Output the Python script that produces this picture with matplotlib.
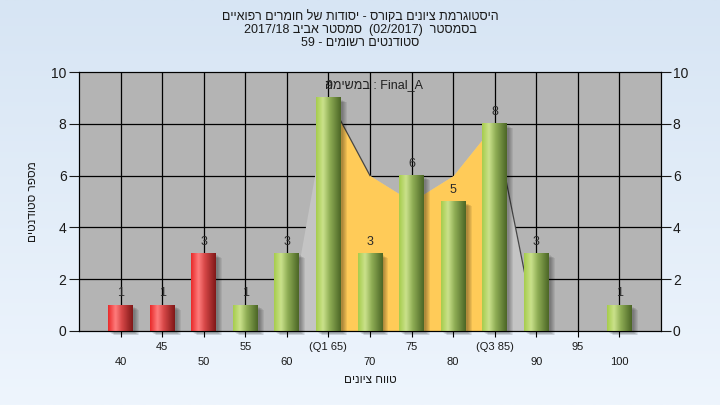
import numpy as np
import matplotlib
matplotlib.use("Agg")
import matplotlib.pyplot as plt
from matplotlib.patches import Rectangle
from matplotlib.colors import LinearSegmentedColormap

plt.rcParams['font.family'] = ['Liberation Sans', 'DejaVu Sans']

# data
grades = ['40', '45', '50', '55', '60', '(Q1 65)', '70', '75', '80', '(Q3 85)', '90', '95', '100']
counts = [1, 1, 3, 1, 3, 9, 3, 6, 5, 8, 3, 0, 1]
failed = [True, True, True, False, False, False, False, False, False, False, False, False, False]
area_idx = [4, 5, 6, 7, 8, 9, 10]          # 60 .. 90
area_vals = [0, 9, 6, 5, 6, 8, 0]

# hebrew strings written in visual (left to right) order
title_lines = [
    "היסטוגרמת ציונים בקורס - יסודות של חומרים רפואיים"[::-1],
    "2017/18 " + "סמסטר אביב"[::-1] + "  (02/2017)  " + "בסמסטר"[::-1],
    "59 - " + "סטודנטים רשומים"[::-1],
]
xlabel = "טווח ציונים"[::-1]
ylabel = "מספר סטודנטים"[::-1]
task_label = "במשימה"[::-1] + " : Final_A"

fig = plt.figure(figsize=(7.2, 4.05), dpi=100)

# light blue gradient background
bg = fig.add_axes([0, 0, 1, 1], zorder=-10)
grad = np.linspace(0, 1, 256).reshape(-1, 1)
bg_cmap = LinearSegmentedColormap.from_list('bg', ['#d7e5f4', '#eef5fd'])
bg.imshow(grad, aspect='auto', cmap=bg_cmap, extent=[0, 1, 0, 1])
bg.axis('off')

ax = fig.add_axes([79/720, 1 - 331/405, 582/720, 259/405])
ax.set_facecolor('#b4b4b4')
x = np.arange(len(grades))
ax.set_xlim(-1, 13)
ax.set_ylim(0, 10)

# grid
for xi in x:
    ax.axvline(xi, color='black', lw=0.9, zorder=1)
for yi in range(2, 10, 2):
    ax.axhline(yi, color='black', lw=0.9, zorder=1)

# area behind bars
ax.fill_between(area_idx, area_vals, color='#c4c4c4', lw=0, zorder=2)
ax.fill_between(area_idx[1:6], area_vals[1:6], color='#ffcb58', lw=0, zorder=2.1)
ax.plot(area_idx[1:3], area_vals[1:3], color='#454545', lw=0.9, zorder=2.2)
ax.plot(area_idx[5:7], area_vals[5:7], color='#454545', lw=0.9, zorder=2.2)

red_cmap = LinearSegmentedColormap.from_list('r', [(0, '#e82a2a'), (0.3, '#ff7d7d'), (0.55, '#d84848'), (1, '#801818')])
green_cmap = LinearSegmentedColormap.from_list('g', [(0, '#a6cc4c'), (0.28, '#cbe28c'), (0.55, '#8fae55'), (1, '#4c6626')])

w = 0.6
px = 14 / 582
py = 10 / 259
for xi, v, f in zip(x, counts, failed):
    if v == 0:
        continue
    # soft shadow
    for k in range(5):
        ax.add_patch(Rectangle((xi - w/2 + (2 + k) * px, -(2 + k * 0.6) * py), w, v,
                               color='black', alpha=0.07, lw=0, zorder=3, clip_on=False))
    ax.imshow(np.linspace(0, 1, 64).reshape(1, -1), cmap=red_cmap if f else green_cmap,
              extent=[xi - w/2, xi + w/2, 0, v], aspect='auto', interpolation='bicubic', zorder=4)
    ax.text(xi, v + 0.45, str(v), ha='center', va='center', fontsize=9, color='#2a2a2a', zorder=5)

ax.set_xlim(-1, 13)
ax.set_ylim(0, 10)

ax.text(4.92, 9.5, task_label, ha='left', va='center', fontsize=9, color='#202020', zorder=5)

# ticks and labels, staggered in two rows
ax.set_xticks(x)
ax.set_xticklabels(grades, fontsize=8, color='#1a1a1a')
ax.tick_params(axis='x', length=4)
for i, t in enumerate(ax.xaxis.get_major_ticks()):
    t.set_pad(4 if i % 2 else 15)
ax.set_yticks(range(0, 11, 2))
ax.tick_params(axis='y', labelsize=10, length=7, pad=2, colors='#1a1a1a')
for s in ax.spines.values():
    s.set_color('black')
ax2 = ax.twinx()
ax2.set_ylim(0, 10)
ax2.set_yticks(range(0, 11, 2))
ax2.tick_params(axis='y', labelsize=10, length=7, pad=1.5, colors='#1a1a1a')

ax.set_xlabel(xlabel, fontsize=8.5, color='#1a1a1a')
ax.xaxis.set_label_coords(0.5, -(374 - 331) / 259)
ax.set_ylabel(ylabel, fontsize=8.5, color='#1a1a1a')
ax.yaxis.set_label_coords((39 - 79) / 582, 0.5)

for i, line in enumerate(title_lines):
    fig.text(0.5, 1 - (17 + 13 * i) / 405, line, ha='center', va='center', fontsize=9, color='#1a1a1a')

fig.savefig('out.png', dpi=100)
